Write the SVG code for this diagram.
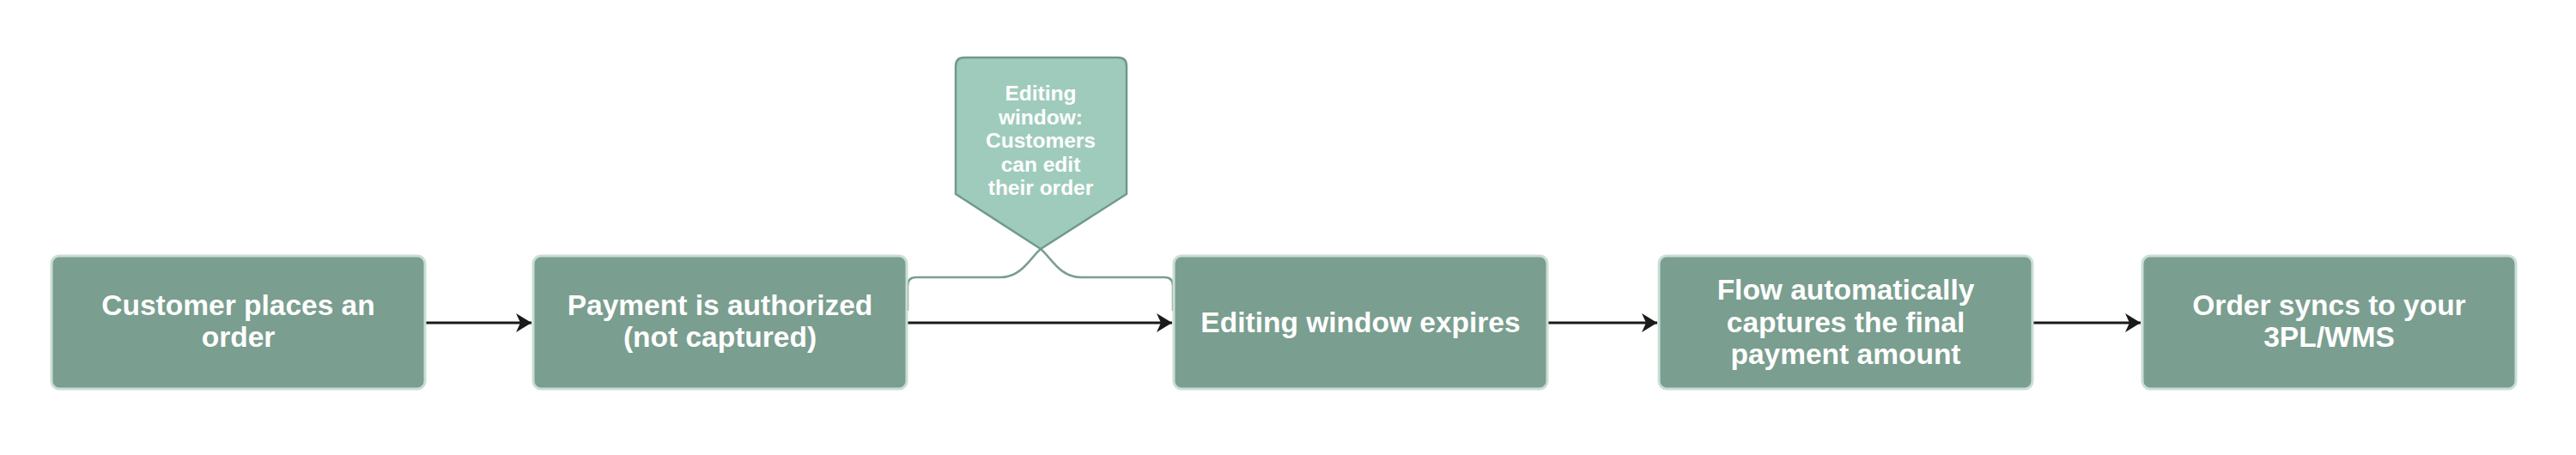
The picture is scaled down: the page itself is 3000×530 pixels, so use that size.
<svg xmlns="http://www.w3.org/2000/svg" width="3000" height="530" viewBox="0 0 3000 530">
<style>
.box{fill:#7a9e8f;stroke:#c9ded5;stroke-width:3}
.lbl{font-family:"Liberation Sans",Arial,Helvetica,sans-serif;font-weight:bold;font-size:33.5px;fill:#ffffff;text-anchor:middle}
.clbl{font-family:"Liberation Sans",Arial,Helvetica,sans-serif;font-weight:bold;font-size:24.5px;fill:#ffffff;text-anchor:middle}
.edge{fill:none;stroke:#1a1a1a;stroke-width:3}
.brace{fill:none;stroke:#7a9e8f;stroke-width:2.5}
</style>
<defs>
<marker id="arr" markerWidth="20" markerHeight="24" refX="18" refY="11" orient="auto" markerUnits="userSpaceOnUse" viewBox="0 0 20 22">
<path d="M0,0 L18,11 L0,22 L5,11 Z" fill="#1a1a1a"/>
</marker>
</defs>
<rect width="3000" height="530" fill="#ffffff"/>
<g id="connectors">
<line class="edge" x1="496" y1="376" x2="619" y2="376" marker-end="url(#arr)"/>
<line class="edge" x1="1057" y1="376" x2="1365" y2="376" marker-end="url(#arr)"/>
<line class="edge" x1="1803" y1="376" x2="1930" y2="376" marker-end="url(#arr)"/>
<line class="edge" x1="2367" y1="376" x2="2493" y2="376" marker-end="url(#arr)"/>
<path class="brace" d="M1057,362 L1057,333 Q1057,323 1067,323 L1165,323 C1190,323 1200,300 1212,290 C1224,300 1234,323 1259,323 L1356,323 Q1366,323 1366,333 L1366,362"/>
</g>
<g id="node-customer-places-order">
<rect class="box" x="60" y="298" width="435" height="155" rx="9"/>
<text class="lbl" x="277.5" y="367">Customer places an</text>
<text class="lbl" x="277.5" y="404">order</text>
</g>
<g id="node-payment-authorized">
<rect class="box" x="621" y="298" width="435" height="155" rx="9"/>
<text class="lbl" x="838.5" y="367">Payment is authorized</text>
<text class="lbl" x="838.5" y="404">(not captured)</text>
</g>
<g id="node-editing-window">
<path d="M1123,67 L1302,67 Q1312,67 1312,77 L1312,226 L1212,290 L1113,226 L1113,77 Q1113,67 1123,67 Z" fill="#9fcbbc" stroke="#6f9a89" stroke-width="2.5" stroke-linejoin="round"/>
<text class="clbl" x="1212" y="117">Editing</text>
<text class="clbl" x="1212" y="144.5">window:</text>
<text class="clbl" x="1212" y="172">Customers</text>
<text class="clbl" x="1212" y="199.5">can edit</text>
<text class="clbl" x="1212" y="227">their order</text>
</g>
<g id="node-editing-window-expires">
<rect class="box" x="1367" y="298" width="435" height="155" rx="9"/>
<text class="lbl" x="1584.5" y="387">Editing window expires</text>
</g>
<g id="node-flow-captures">
<rect class="box" x="1932" y="298" width="435" height="155" rx="9"/>
<text class="lbl" x="2149.5" y="349">Flow automatically</text>
<text class="lbl" x="2149.5" y="386.5">captures the final</text>
<text class="lbl" x="2149.5" y="424">payment amount</text>
</g>
<g id="node-order-syncs">
<rect class="box" x="2495" y="298" width="435" height="155" rx="9"/>
<text class="lbl" x="2712.5" y="367">Order syncs to your</text>
<text class="lbl" x="2712.5" y="404">3PL/WMS</text>
</g>
</svg>
